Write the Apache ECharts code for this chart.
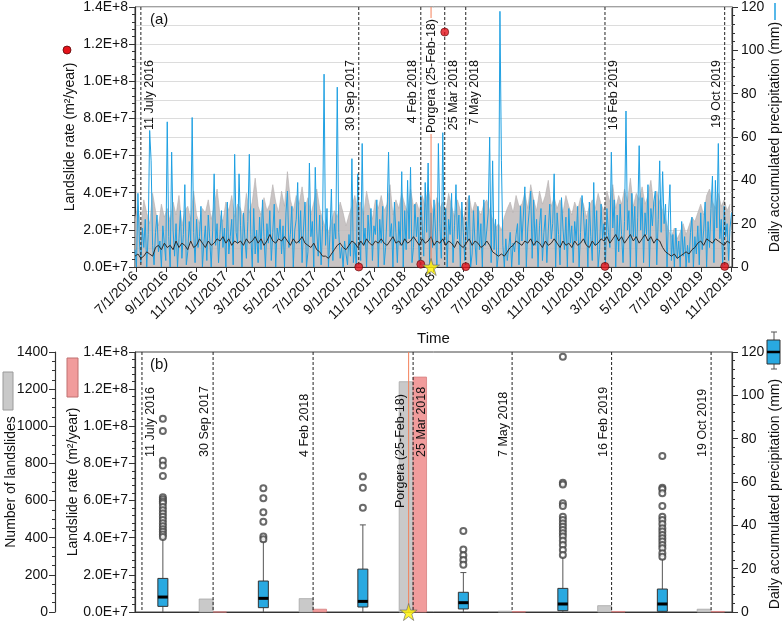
<!DOCTYPE html>
<html>
<head>
<meta charset="utf-8">
<title>Landslide rate and daily precipitation</title>
<script src="https://cdn.jsdelivr.net/npm/echarts@6/dist/echarts.min.js"></script>
<style>
html,body{margin:0;padding:0;background:#fff;}
#main{width:782px;height:622px;}
</style>
</head>
<body>
<div id="main"></div>
<script>
// ---------------- data ----------------
// daily precipitation at the site (mm), one reading every 3 days from rainStart
var rainStart = '2016-06-29';
var rainStep = 3;
var rainSite = [
 8,0,34,12,2,18,9,22,0,15,63,49,10,1,16,24,7,12,0,19,
 11,3,67,14,0,53,17,5,20,0,13,26,4,15,38,1,7,21,12,69,
 16,2,22,9,14,28,0,11,19,3,24,13,0,17,43,10,20,2,15,26,
 9,18,0,30,6,14,22,1,52,16,11,43,19,0,25,13,4,21,52,15,
 0,27,6,17,2,23,8,31,14,0,20,11,26,3,16,29,0,18,13,22,
 6,19,0,25,35,9,15,28,0,17,22,39,11,26,2,18,30,0,7,48,
 14,21,0,46,17,5,24,1,19,89,10,27,0,15,36,3,20,13,83,16,
 4,9,0,12,6,1,15,5,50,2,11,0,43,14,3,57,10,18,0,24,
 12,27,3,19,15,31,0,22,11,28,1,9,25,53,14,20,0,30,16,2,
 21,10,44,0,26,8,40,13,46,2,9,29,14,23,0,33,18,5,39,16,
 48,1,25,9,31,17,0,57,20,4,62,11,27,0,22,15,34,2,19,38,
 13,24,0,30,16,3,21,12,33,0,6,26,11,1,28,8,20,0,31,10,
 17,25,60,2,49,8,22,0,6,118,49,10,0,13,3,9,16,0,11,7,
 15,20,1,28,12,24,37,0,18,26,35,4,31,10,22,0,19,27,3,16,
 24,2,17,29,13,20,43,0,25,15,1,32,18,8,23,0,27,11,19,2,
 21,12,28,0,16,33,25,11,22,0,30,14,3,39,10,26,0,8,29,13,
 20,1,27,16,9,53,18,31,0,24,7,29,15,2,21,72,17,26,0,34,
 14,28,0,23,56,17,32,2,25,15,38,0,27,19,30,35,1,22,49,16,
 44,20,29,0,24,38,3,15,0,18,4,12,0,21,5,14,0,10,2,16,
 23,0,14,6,19,1,25,8,17,30,0,21,9,27,42,2,40,18,57,13,
 22,0,28,14,20,3,18,25
];
// regional precipitation envelope (upper) and mean (mm), one value every 6 days
var bandStart = '2016-06-29';
var bandStep = 6;
var rainRangeTop = [
 22,28,18,31,25,20,34,26,19,29,23,27,
 21,30,24,33,19,26,28,22,35,24,20,27,
 25,31,22,28,36,24,21,30,26,33,23,29,
 27,22,34,25,30,41,28,24,32,26,29,38,
 30,25,35,28,44,31,26,33,29,37,27,32,
 24,30,36,27,22,18,16,21,26,23,30,25,
 19,24,28,33,26,30,24,35,28,22,31,27,
 33,26,29,38,24,31,27,34,29,25,36,28,
 30,26,33,28,37,29,24,32,27,30,25,34,
 28,23,31,26,22,29,33,25,30,27,24,29,
 31,26,22,18,20,17,23,27,30,25,33,28,
 29,34,27,38,31,26,35,29,33,40,28,32,
 27,31,25,33,28,24,30,26,32,29,23,28,
 31,27,34,29,26,35,30,38,27,33,29,36,
 30,41,28,34,31,37,29,33,40,28,35,30,
 26,22,17,14,18,13,16,20,15,19,23,21,
 25,29,24,33,36,30,27,34,28,31,26,29
];
var rainMean = [
 5,6,4,5,7,6,5,9,10,8,11,9,
 10,8,12,9,11,10,8,12,9,10,13,11,
 9,12,10,11,13,12,14,11,13,10,12,11,
 12,10,13,11,12,14,11,13,10,12,15,12,
 11,13,12,14,12,10,13,11,12,14,11,10,
 9,11,8,7,5,5,4,6,8,10,11,9,
 8,10,12,11,9,12,10,13,11,10,12,11,
 13,11,10,12,14,11,12,10,13,11,12,14,
 12,10,13,11,12,14,10,12,11,13,10,12,
 11,9,12,10,9,11,13,10,12,11,9,10,
 12,10,7,6,5,6,5,7,9,10,12,11,
 10,12,11,13,10,12,11,9,12,10,11,13,
 11,9,12,10,11,9,12,10,11,13,10,9,
 12,10,11,13,12,14,11,13,15,12,14,11,
 13,15,12,14,11,13,15,12,14,11,13,12,
 9,7,6,5,6,4,5,6,7,6,8,9,
 11,12,10,13,12,11,13,12,11,10,12,11
];

var tickLabels = ['7/1/2016','9/1/2016','11/1/2016','1/1/2017','3/1/2017','5/1/2017','7/1/2017',
  '9/1/2017','11/1/2017','1/1/2018','3/1/2018','5/1/2018','7/1/2018','9/1/2018','11/1/2018',
  '1/1/2019','3/1/2019','5/1/2019','7/1/2019','9/1/2019','11/1/2019'];
var rateTicks = ['0.0E+7','2.0E+7','4.0E+7','6.0E+7','8.0E+7','1.0E+8','1.2E+8','1.4E+8'];

var eventNames = ['11 July 2016','30 Sep 2017','4 Feb 2018','25 Mar 2018','7 May 2018','16 Feb 2019','19 Oct 2019'];
var eventDates = ['2016-07-11','2017-09-30','2018-02-04','2018-03-25','2018-05-07','2019-02-16','2019-10-19'];
var eventSlot = [0.07, 0.785, 1.79, 2.795, 3.79, 4.79, 5.79];   // place of each event in panel (b)
var landslideCount = [null, 70, 72, 1240, 4, 34, 15];
var landslideRate = [null, 0, 1.5e6, 1.265e8, 0.2e6, 0.3e6, 0.3e6];

var porgeraName = 'Porgera (25-Feb-18)';
var porgeraDate = '2018-02-25';
var porgeraSlot = 2.75;

// precipitation between events: [min, Q1, median, Q3, upper whisker]
var boxSlot = [0.28, 1.29, 2.29, 3.30, 4.30, 5.30];
var boxStats = [
 [0, 2.6, 6.9, 15.5, 34.0],
 [0, 2.0, 6.3, 14.3, 32.5],
 [0, 2.3, 4.9, 19.8, 40.2],
 [0, 1.4, 4.3, 9.1, 18.2],
 [0, 0.6, 3.7, 10.9, 25.5],
 [0, 0.3, 3.7, 10.6, 24.5]
];
var boxOutliers = [
 [89.2, 83.5, 69.8, 67.6, 62.8, 53.0, 52.0, 51.0, 50.2, 48.5, 47.0, 45.5, 44.0, 42.5, 41.0, 39.6, 38.2, 37.0, 35.8, 34.6],
 [57.1, 52.5, 46.0, 41.7, 34.8, 33.6],
 [62.5, 57.4, 48.1],
 [37.4, 28.8, 26.2, 24.0, 21.8],
 [117.8, 59.7, 58.9, 50.2, 48.9, 44.0, 42.5, 40.9, 39.4, 37.8, 36.3, 34.8, 32.9, 30.9, 28.6, 26.3],
 [72.0, 57.4, 56.6, 54.8, 48.9, 44.0, 42.5, 40.6, 38.6, 37.1, 35.5, 34.0, 32.5, 30.9, 29.4, 27.1, 25.5]
];

// label placement of the event lines (style, not data)
var sideTop = ['right','left','left','right','right','right','left'];
var sideBottom = ['right','left','left','right','left','left','left'];

// ---------------- helpers ----------------
function ts(s){ var p = s.split('-'); return new Date(+p[0], +p[1]-1, +p[2]).getTime(); }
function fromLabel(s){ var p = s.split('/'); return new Date(+p[2], +p[0]-1, +p[1]).getTime(); }
var DAY = 86400000;
function series(start, step, vals){
  var t0 = ts(start), out = [];
  for(var i=0;i<vals.length;i++){ out.push([t0 + i*step*DAY, vals[i]]); }
  return out;
}
var tickValues = tickLabels.map(fromLabel);

var FONT = 'Arial, "Liberation Sans", sans-serif';
var BLUE = '#1fa0e2';
var AXIS = '#333';
var STAR = 'path://M50,0 L61,35 L98,35 L68,57 L79,91 L50,70 L21,91 L32,57 L2,35 L39,35 Z';

function eventRenderer(names, sides, anchor, off, color, dash, yMax, bg){
  return function(params, api){
    var i = params.dataIndex;
    var x = api.value(0);
    var top = api.coord([x, yMax]), bot = api.coord([x, 0]);
    var side = sides[i];
    var tx = side === 'left' ? top[0]-2 : (side === 'right' ? top[0]+2 : top[0]);
    var ty = anchor === 'end' ? top[1] + off : (anchor === 'start' ? bot[1] - off : top[1] + off);
    return {type:'group', children:[
      {type:'line', shape:{x1:top[0], y1:top[1], x2:bot[0], y2:bot[1]},
        style:{stroke:color, lineWidth:1, lineDash:dash}},
      {type:'text', x:tx, y:ty, rotation:Math.PI/2, z2:5,
        style:{text:names[i], font:'12.5px ' + FONT, fill:'#111',
          align: anchor === 'end' ? 'right' : (anchor === 'start' ? 'left' : 'center'),
          verticalAlign: side === 'left' ? 'bottom' : (side === 'right' ? 'top' : 'middle'),
          backgroundColor: bg || null, padding: bg ? [0,1] : 0}}
    ]};
  };
}

function barRenderer(width, fill, stroke){
  return function(params, api){
    var s = api.value(0), v = api.value(1);
    var p0 = api.coord([s + width[0], 0]), p1 = api.coord([s + width[1], v]);
    return {type:'rect', shape:{x:p0[0], y:p1[1], width:p1[0]-p0[0], height:p0[1]-p1[1]},
      style:{fill:fill, stroke:stroke, lineWidth:0.8}};
  };
}

function boxRenderer(params, api){
  var x = api.value(0);
  var lo = api.coord([x, api.value(1)]), q1 = api.coord([x, api.value(2)]),
      md = api.coord([x, api.value(3)]), q3 = api.coord([x, api.value(4)]),
      hi = api.coord([x, api.value(5)]);
  var hw = 5;
  var ln = {stroke:'#555', lineWidth:1};
  return {type:'group', children:[
    {type:'line', shape:{x1:hi[0], y1:hi[1], x2:q3[0], y2:q3[1]}, style:ln},
    {type:'line', shape:{x1:hi[0]-3, y1:hi[1], x2:hi[0]+3, y2:hi[1]}, style:ln},
    {type:'line', shape:{x1:lo[0], y1:lo[1], x2:q1[0], y2:q1[1]}, style:ln},
    {type:'rect', shape:{x:q3[0]-hw, y:q3[1], width:2*hw, height:q1[1]-q3[1]},
      style:{fill:'#29a9e1', stroke:'#333', lineWidth:1}},
    {type:'line', shape:{x1:md[0]-hw, y1:md[1], x2:md[0]+hw, y2:md[1]},
      style:{stroke:'#000', lineWidth:3}}
  ]};
}

// ---------------- series data ----------------
var siteData = series(rainStart, rainStep, rainSite);
var rangeData = series(bandStart, bandStep, rainRangeTop);
var meanData = series(bandStart, bandStep, rainMean);
var eventTop = eventDates.map(function(d, i){ return [ts(d), i]; });
var eventBottom = eventSlot.map(function(s, i){ return [s, i]; });
var rateDots = [], countBars = [], rateBars = [];
eventDates.forEach(function(d, i){
  if(landslideRate[i] !== null){ rateDots.push([ts(d), landslideRate[i]]); rateBars.push([eventSlot[i], landslideRate[i]]); }
  if(landslideCount[i] !== null){ countBars.push([eventSlot[i], landslideCount[i]]); }
});
var boxData = boxSlot.map(function(s, i){ return [s].concat(boxStats[i]); });
var outlierData = [];
boxOutliers.forEach(function(list, i){ list.forEach(function(v){ outlierData.push([boxSlot[i], v]); }); });

var axisCommon = {
  axisLine:{show:true, lineStyle:{color:AXIS, width:1.2}},
  axisTick:{show:true, length:6, lineStyle:{color:AXIS}},
  minorTick:{show:true, length:3, lineStyle:{color:AXIS}},
  axisLabel:{fontSize:14, fontFamily:FONT, color:'#111'},
  splitLine:{show:false},
  nameTextStyle:{fontSize:14, fontFamily:FONT, color:'#111'},
  nameLocation:'middle',
  nameMoveOverlap:false
};
function yAx(o){ return echarts.util.merge(echarts.util.clone(axisCommon), o, true); }

var myChart = echarts.init(document.getElementById('main'), null, {renderer:'canvas'});
var option = {
  animation:false,
  backgroundColor:'#fff',
  grid:[
    {left:135, top:7, width:597, height:260, show:true, borderColor:'#444', borderWidth:1, outerBoundsMode:'none'},
    {left:135, top:352, width:597, height:260, show:true, borderColor:'#444', borderWidth:1, outerBoundsMode:'none'}
  ],
  xAxis:[
    {type:'value', gridIndex:0, min:ts('2016-06-29'), max:ts('2019-11-03'),
      axisLine:{lineStyle:{color:AXIS, width:1.2}},
      axisTick:{show:true, length:5, customValues:tickValues, lineStyle:{color:AXIS}},
      axisLabel:{customValues:tickValues, rotate:45, margin:7, fontSize:14, fontFamily:FONT, color:'#111',
        formatter:function(v){
          var best = 0;
          for(var i=1;i<tickValues.length;i++){ if(Math.abs(tickValues[i]-v) < Math.abs(tickValues[best]-v)) best = i; }
          return tickLabels[best];
        }},
      splitLine:{show:false},
      name:'Time', nameLocation:'middle', nameGap:64, nameMoveOverlap:false,
      nameTextStyle:{fontSize:15, fontFamily:FONT, color:'#111'}},
    {type:'value', gridIndex:1, min:0, max:6,
      axisLine:{show:true, lineStyle:{color:AXIS, width:1.2}},
      axisTick:{show:false}, axisLabel:{show:false}, splitLine:{show:false}}
  ],
  yAxis:[
    yAx({type:'value', gridIndex:0, position:'left', min:0, max:1.4e8, interval:2e7,
      minorTick:{splitNumber:5},
      axisLabel:{margin:7, formatter:function(v){ return rateTicks[Math.round(v/2e7)]; }},
      name:'Landslide rate (m²/year)', nameGap:58}),
    yAx({type:'value', gridIndex:0, position:'right', min:0, max:120, interval:20,
      minorTick:{splitNumber:5}, axisLabel:{margin:9},
      name:'Daily accumulated precipitation (mm)', nameGap:36}),
    {type:'value', gridIndex:0, position:'left', min:0, max:1.4e8, interval:1e7,
      axisLine:{show:false}, axisTick:{show:false}, axisLabel:{show:false},
      splitLine:{show:true, lineStyle:{color:'#dcdcdc', width:1}}},
    yAx({type:'value', gridIndex:1, position:'left', min:0, max:1.4e8, interval:2e7,
      minorTick:{splitNumber:5},
      axisLabel:{margin:7, formatter:function(v){ return rateTicks[Math.round(v/2e7)]; }},
      name:'Landslide rate (m²/year)', nameGap:55}),
    yAx({type:'value', gridIndex:1, position:'left', offset:80, min:0, max:1400, interval:200,
      minorTick:{splitNumber:4}, axisLabel:{margin:7, formatter:function(v){ return String(v); }},
      name:'Number of landslides', nameGap:37}),
    yAx({type:'value', gridIndex:1, position:'right', min:0, max:120, interval:20,
      minorTick:{splitNumber:5}, axisLabel:{margin:9},
      name:'Daily accumulated precipitation (mm)', nameGap:36,
      nameTextStyle:{padding:[0, 24, 0, 0]}})
  ],
  series:[
    // ---- panel (a)
    {type:'line', name:'range', xAxisIndex:0, yAxisIndex:1, data:rangeData, showSymbol:false,
      lineStyle:{color:'#b3aeae', width:0.6}, areaStyle:{color:'#bfbaba', opacity:0.85}, z:1},
    {type:'line', name:'site', xAxisIndex:0, yAxisIndex:1, data:siteData, showSymbol:false,
      lineStyle:{color:BLUE, width:1}, z:2},
    {type:'line', name:'mean', xAxisIndex:0, yAxisIndex:1, data:meanData, showSymbol:false,
      lineStyle:{color:'#2b2b2b', width:1}, z:3},
    {type:'custom', xAxisIndex:0, yAxisIndex:1, data:eventTop, z:4,
      renderItem:eventRenderer(eventNames, sideTop, 'end', 53, '#222', [3,2], 120)},
    {type:'custom', xAxisIndex:0, yAxisIndex:1, data:[[ts(porgeraDate), 0]], z:5,
      renderItem:eventRenderer([porgeraName], ['center'], 'mid', 69, '#f4805a', null, 120, '#fff')},
    {type:'scatter', xAxisIndex:0, yAxisIndex:0, data:rateDots, symbolSize:8, clip:false, z:6,
      itemStyle:{color:'#e5121a', borderColor:'#5a0a0a', borderWidth:0.8}},
    {type:'scatter', xAxisIndex:0, yAxisIndex:0, data:[[ts(porgeraDate), 0]], symbol:STAR, symbolSize:17, clip:false, z:7,
      itemStyle:{color:'#fff200', borderColor:'#666', borderWidth:0.8}},
    // ---- panel (b)
    {type:'custom', xAxisIndex:1, yAxisIndex:4, data:countBars, z:1,
      renderItem:barRenderer([-0.14, 0], '#c9c9c9', '#a8a8a8')},
    {type:'custom', xAxisIndex:1, yAxisIndex:3, data:rateBars, z:1,
      renderItem:barRenderer([0, 0.135], '#f19c9c', '#d58080')},
    {type:'custom', xAxisIndex:1, yAxisIndex:5, data:eventBottom, z:3,
      renderItem:eventRenderer(eventNames, sideBottom, 'start', 155, '#222', [3,2], 120)},
    {type:'custom', xAxisIndex:1, yAxisIndex:5, data:[[porgeraSlot, 0]], z:4,
      renderItem:eventRenderer([porgeraName], ['left'], 'start', 104, '#f4805a', null, 120)},
    {type:'custom', xAxisIndex:1, yAxisIndex:5, data:boxData, z:5, encode:{x:0, y:[1,2,3,4,5]},
      renderItem:boxRenderer},
    {type:'scatter', xAxisIndex:1, yAxisIndex:5, data:outlierData, symbol:'emptyCircle', symbolSize:6, z:6,
      itemStyle:{color:'#444', borderWidth:0.7}},
    {type:'scatter', xAxisIndex:1, yAxisIndex:5, data:[[porgeraSlot, 0]], symbol:STAR, symbolSize:17, clip:false, z:7,
      itemStyle:{color:'#fff200', borderColor:'#666', borderWidth:0.8}}
  ],
  graphic:[
    {type:'text', left:150, top:12, style:{text:'(a)', font:'15px ' + FONT, fill:'#111'}, z:10},
    {type:'text', left:150, top:357, style:{text:'(b)', font:'15px ' + FONT, fill:'#111'}, z:10},
    {type:'circle', shape:{cx:67, cy:50, r:4}, style:{fill:'#e5121a', stroke:'#5a0a0a', lineWidth:0.8}},
    {type:'line', shape:{x1:775, y1:3, x2:775, y2:20}, style:{stroke:BLUE, lineWidth:1.5}},
    {type:'rect', shape:{x:3, y:372, width:10, height:38}, style:{fill:'#c9c9c9', stroke:'#9a9a9a', lineWidth:1}},
    {type:'rect', shape:{x:67, y:358, width:11, height:39}, style:{fill:'#f19c9c', stroke:'#c07070', lineWidth:1}},
    {type:'line', shape:{x1:774, y1:332, x2:774, y2:369}, style:{stroke:'#555', lineWidth:1}},
    {type:'line', shape:{x1:771, y1:332, x2:777, y2:332}, style:{stroke:'#555', lineWidth:1}},
    {type:'line', shape:{x1:771, y1:369, x2:777, y2:369}, style:{stroke:'#555', lineWidth:1}},
    {type:'rect', shape:{x:767, y:340, width:13, height:24}, style:{fill:'#29a9e1', stroke:'#333', lineWidth:1}},
    {type:'line', shape:{x1:767, y1:352, x2:780, y2:352}, style:{stroke:'#000', lineWidth:2.5}}
  ]
};
myChart.setOption(option);
</script>
</body>
</html>
